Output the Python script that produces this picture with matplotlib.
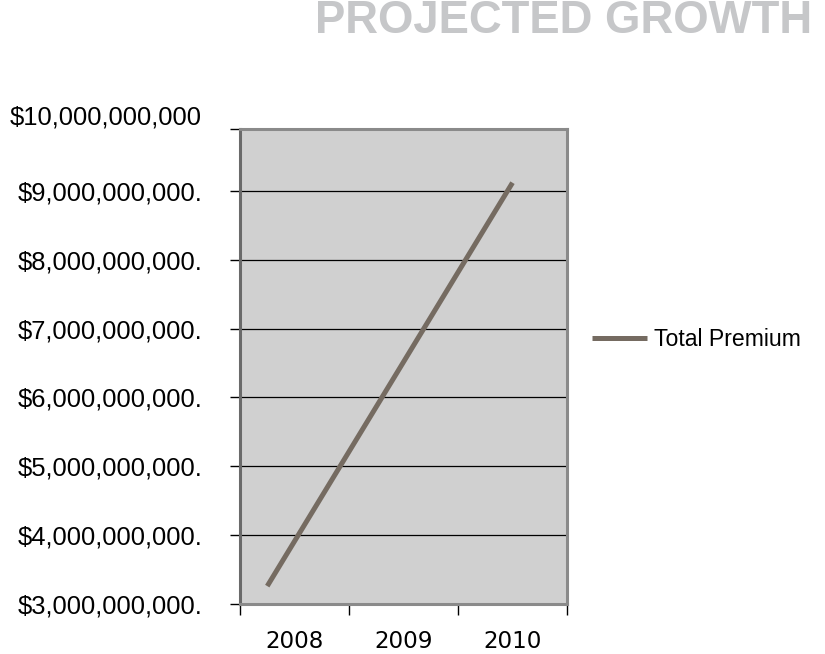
import numpy as np
import matplotlib
matplotlib.use("Agg")
from matplotlib import pyplot as plt

plt.rcParams['font.family'] = ['Liberation Sans', 'DejaVu Sans']

# data
years = ['2008', '2009', '2010']
premium_x = [0.25, 2.5]             # position along the category axis
premium = [3.26e9, 9.12e9]          # total premium, $
y_ticks = [3e9, 4e9, 5e9, 6e9, 7e9, 8e9, 9e9]
y_top = 9.9e9
y_labels = ['$3,000,000,000.', '$4,000,000,000.', '$5,000,000,000.', '$6,000,000,000.',
            '$7,000,000,000.', '$8,000,000,000.', '$9,000,000,000.']
top_label = '$10,000,000,000'

fig = plt.figure(figsize=(8.25, 6.54), dpi=100)
fig.patch.set_facecolor('white')

ax = fig.add_axes([240/825, 1 - 604/654, 327/825, 475/654])
ax.set_facecolor('#d0d0d0')

ax.plot(premium_x, premium, color='#756b61', lw=3.6, solid_capstyle='butt', label='Total Premium', zorder=3)

ax.set_xlim(0, len(years))
ax.set_ylim(y_ticks[0], y_top)

ax.set_yticks(y_ticks + [y_top])
ax.set_yticklabels(y_labels + [''])
ax.yaxis.grid(True, color='black', lw=0.9)
ax.set_axisbelow(True)
# the top label sits a little above its tick
ax.annotate(top_label, xy=(0, y_top), xycoords=('axes fraction', 'data'),
            xytext=(-38, 12), textcoords='offset pixels', ha='right', va='center', fontsize=18.4)

ax.set_xticks(np.arange(len(years) + 1))
ax.set_xticklabels([])
ax.set_xticks(np.arange(len(years)) + 0.5, minor=True)
ax.set_xticklabels(years, minor=True, family='DejaVu Sans', fontsize=16.6)
ax.tick_params(axis='x', which='major', length=8, width=1, color='black', direction='out')
ax.tick_params(axis='x', which='minor', length=0, pad=19)
ax.tick_params(axis='y', length=7, width=1, color='black', direction='out', labelsize=18.4, pad=20)

for s in ['left', 'right', 'top', 'bottom']:
    ax.spines[s].set_color('#8a8a8a')
    ax.spines[s].set_linewidth(2.2)
ax.spines['left'].set_color('#6a6a6a')

fig.legend(handles=ax.get_lines(), loc='center left', bbox_to_anchor=(571/825, 1 - 340/654),
           frameon=False, fontsize=16.6, handlelength=2.4, handletextpad=0.3)

fig.text(812/825, 1 - 33/654, 'PROJECTED GROWTH', ha='right', va='baseline',
         fontsize=32.8, fontweight='bold', color='#c6c7c9')

fig.savefig('out.png', dpi=100, facecolor='white')
